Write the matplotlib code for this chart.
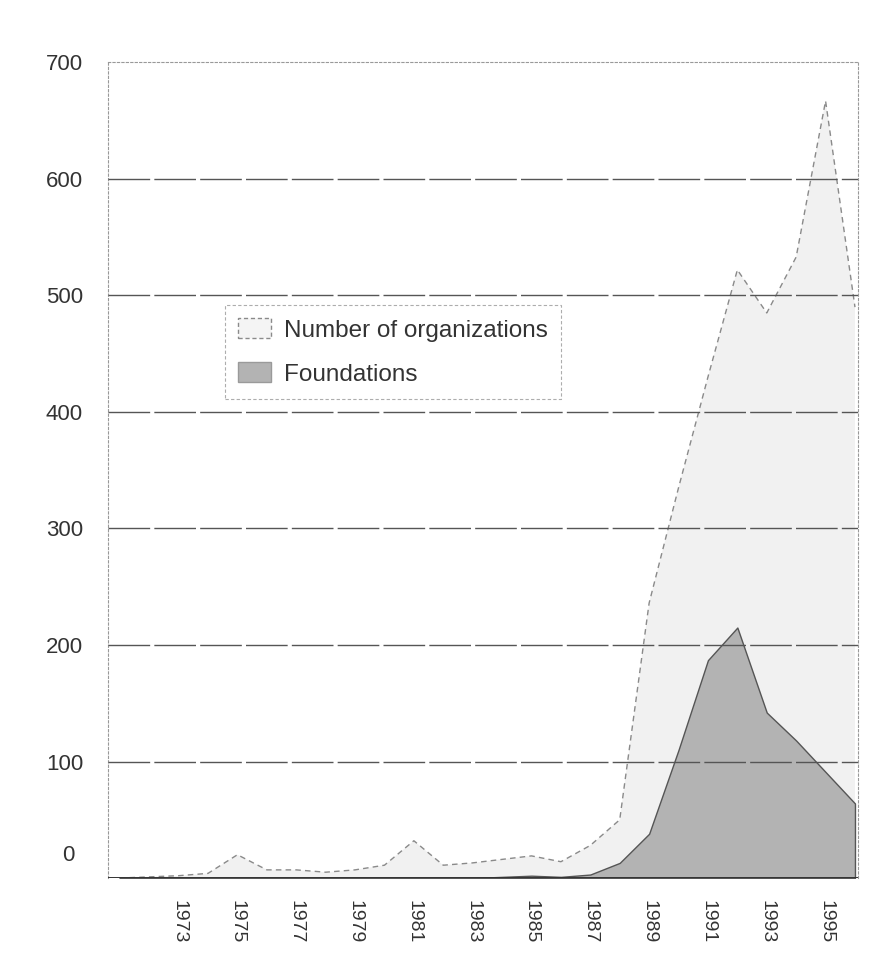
import matplotlib
matplotlib.use("Agg")
import matplotlib.pyplot as plt
import matplotlib.transforms as mtransforms
from matplotlib.patches import Patch

plt.rcParams["font.family"] = ["Liberation Sans", "DejaVu Sans"]

years = list(range(1971, 1997))
organizations = [0, 1, 2, 4, 20, 7, 7, 5, 7, 11, 32, 11, 13, 16, 19, 14, 28, 50,
                 236, 335, 430, 522, 485, 533, 667, 490]
foundations = [0, 0, 0, 0, 0, 0, 0, 0, 0, 0, 0, 0, 0, 1, 2, 1, 3, 13,
               38, 110, 187, 215, 142, 118, 91, 64]
tick_years = list(range(1973, 1997, 2))
y_ticks = [0, 100, 200, 300, 400, 500, 600, 700]

fig = plt.figure(figsize=(8.74, 9.55), dpi=100)
ax = fig.add_axes([0.1236, 0.0806, 0.858, 0.854])

ax.fill_between(years, organizations, 0, facecolor="#f1f1f1", edgecolor="none", zorder=1)
ax.plot(years, organizations, color="#8a8a8a", linestyle=(0, (4, 3)), linewidth=1.0, zorder=3)
ax.fill_between(years, foundations, 0, facecolor="#b3b3b3", edgecolor="#555555",
                linewidth=1.0, zorder=2)

ax.set_xlim(1970.6, 1996.1)
ax.set_ylim(0, 700)

for v in y_ticks[1:-1]:
    ax.axhline(v, color="#555555", linewidth=1.0, linestyle=(0, (30, 3)), zorder=4)
ax.axhline(0, color="#333333", linewidth=1.4, zorder=5)

ax.set_yticks(y_ticks)
ax.set_yticklabels([str(v) for v in y_ticks], fontsize=16, color="#333333")
ax.set_xticks(tick_years)
ax.set_xticklabels([str(y) for y in tick_years], rotation=270, fontsize=14, color="#333333")
ax.tick_params(axis="y", length=0, pad=18)
ax.tick_params(axis="x", length=0, pad=16)

# the "0" label sits a little above the baseline in the original
zero_lbl = ax.get_yticklabels()[0]
zero_lbl.set_transform(zero_lbl.get_transform() +
                       mtransforms.ScaledTranslation(-6 / 72, 18 / 72, fig.dpi_scale_trans))

for side in ["left", "top", "right"]:
    ax.spines[side].set_color("#999999")
    ax.spines[side].set_linestyle((0, (2, 2)))
    ax.spines[side].set_linewidth(0.8)
ax.spines["bottom"].set_visible(False)

handles = [
    Patch(facecolor="#f4f4f4", edgecolor="#8a8a8a", linestyle=(0, (3, 2)), label="Number of organizations"),
    Patch(facecolor="#b3b3b3", edgecolor="#9a9a9a", label="Foundations"),
]
leg = ax.legend(handles=handles, loc="upper left", bbox_to_anchor=(0.156, 0.703),
                fontsize=17.5, frameon=True, fancybox=False, borderpad=0.55,
                labelspacing=0.85, handlelength=1.33, handleheight=0.9, handletextpad=0.55,
                borderaxespad=0)
leg.get_frame().set_edgecolor("#999999")
leg.get_frame().set_linestyle((0, (3, 2)))
leg.get_frame().set_linewidth(0.8)
leg.set_zorder(10)
for t in leg.get_texts():
    t.set_color("#333333")

fig.savefig("out.png", dpi=100, facecolor="white")
